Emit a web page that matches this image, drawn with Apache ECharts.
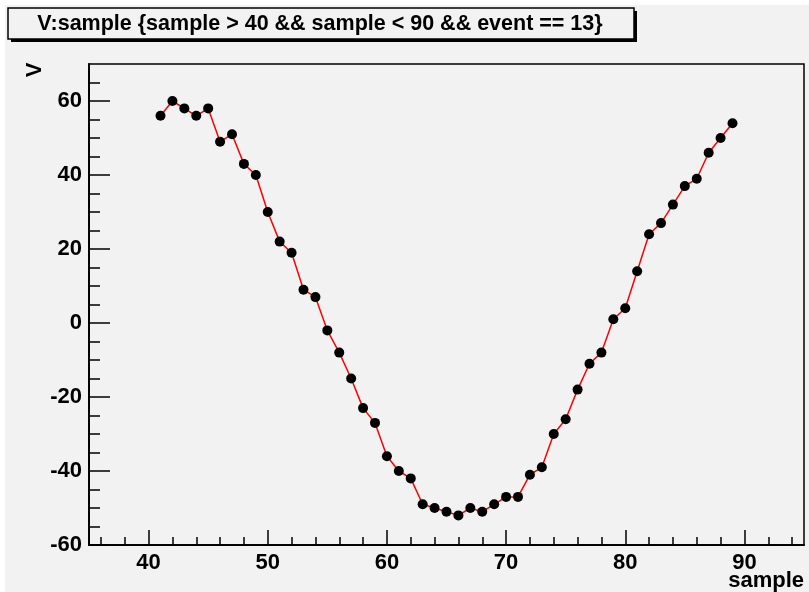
<!DOCTYPE html>
<html>
<head>
<meta charset="utf-8">
<script src="https://cdn.jsdelivr.net/npm/echarts@6/dist/echarts.min.js"></script>
<style>
html,body{margin:0;padding:0;background:#ffffff;}
#chart{width:809px;height:592px;}
</style>
</head>
<body>
<div id="chart"></div>
<script>
// Data
const samples = [41,42,43,44,45,46,47,48,49,50,51,52,53,54,55,56,57,58,59,60,61,62,63,64,65,66,67,68,69,70,71,72,73,74,75,76,77,78,79,80,81,82,83,84,85,86,87,88,89];
const vValues = [56,60,58,56,58,49,51,43,40,30,22,19,9,7,-2,-8,-15,-23,-27,-36,-40,-42,-49,-50,-51,-52,-50,-51,-49,-47,-47,-41,-39,-30,-26,-18,-11,-8,1,4,14,24,27,32,37,39,46,50,54];
const xMajorTicks = [40,50,60,70,80,90];
const xMinorTicks = [36,38,42,44,46,48,52,54,56,58,62,64,66,68,72,74,76,78,82,84,86,88,92,94];
const yMajorTicks = [-60,-40,-20,0,20,40,60];
const yMinorTicks = [-55,-50,-45,-35,-30,-25,-15,-10,-5,5,10,15,25,30,35,45,50,55,65];
const titleText = 'V:sample {sample > 40 && sample < 90 && event == 13}';
const xTitle = 'sample';
const yTitle = 'V';

const points = samples.map((s, i) => [s, vValues[i]]);
const FONT = '"Liberation Sans", Arial, sans-serif';

const chart = echarts.init(document.getElementById('chart'), null, {renderer: 'canvas'});

const baseX = {
  type: 'value', min: 35, max: 95, position: 'bottom',
  axisLine: {show: true, onZero: false, lineStyle: {color: '#000', width: 1.5}},
  splitLine: {show: false}
};
const baseY = {
  type: 'value', min: -60, max: 70, position: 'left',
  axisLine: {show: true, onZero: false, lineStyle: {color: '#000', width: 1.5}},
  splitLine: {show: false}
};

chart.setOption({
  animation: false,
  backgroundColor: '#ffffff',
  grid: {left: 89, top: 64, right: 5, bottom: 47, show: true, borderColor: '#000', borderWidth: 1.5, backgroundColor: 'transparent'},
  graphic: [
    {type: 'rect', z: -10, silent: true, shape: {x: 5, y: 5, width: 804, height: 587}, style: {fill: '#f2f2f2'}},
    {type: 'rect', z: 10, silent: true, shape: {x: 11, y: 11, width: 626, height: 31}, style: {fill: '#000'}},
    {type: 'rect', z: 11, silent: true, shape: {x: 8, y: 8, width: 626, height: 31}, style: {fill: '#f2f2f2', stroke: '#000', lineWidth: 1.5}},
    {type: 'text', z: 12, silent: true, x: 320, y: 24, style: {text: titleText, font: 'bold 21.5px ' + FONT, fill: '#000', align: 'center', verticalAlign: 'middle'}},
    {type: 'text', z: 12, silent: true, x: 35, y: 70, rotation: Math.PI / 2, style: {text: yTitle, font: 'bold 22px ' + FONT, fill: '#000', align: 'center', verticalAlign: 'middle'}},
    {type: 'text', z: 12, silent: true, x: 804, y: 581, style: {text: xTitle, font: 'bold 22px ' + FONT, fill: '#000', align: 'right', verticalAlign: 'middle'}}
  ],
  xAxis: [
    Object.assign({}, baseX, {
      axisTick: {show: true, inside: true, length: 15, customValues: xMajorTicks, lineStyle: {color: '#000', width: 1.5}},
      axisLabel: {show: true, customValues: xMajorTicks, margin: 7, color: '#000', fontFamily: FONT, fontWeight: 'bold', fontSize: 22}
    }),
    Object.assign({}, baseX, {
      axisTick: {show: true, inside: true, length: 8, customValues: xMinorTicks, lineStyle: {color: '#000', width: 1.5}},
      axisLabel: {show: false}
    })
  ],
  yAxis: [
    Object.assign({}, baseY, {
      axisTick: {show: true, inside: true, length: 21, customValues: yMajorTicks, lineStyle: {color: '#000', width: 1.5}},
      axisLabel: {show: true, customValues: yMajorTicks, margin: 7, color: '#000', fontFamily: FONT, fontWeight: 'bold', fontSize: 22}
    }),
    Object.assign({}, baseY, {
      axisTick: {show: true, inside: true, length: 11, customValues: yMinorTicks, lineStyle: {color: '#000', width: 1.5}},
      axisLabel: {show: false}
    })
  ],
  series: [{
    type: 'line',
    data: points,
    xAxisIndex: 0, yAxisIndex: 0,
    symbol: 'circle', symbolSize: 10,
    lineStyle: {color: '#ff0000', width: 1.5},
    itemStyle: {color: '#000', borderWidth: 0},
    showAllSymbol: true
  }]
});
</script>
</body>
</html>
